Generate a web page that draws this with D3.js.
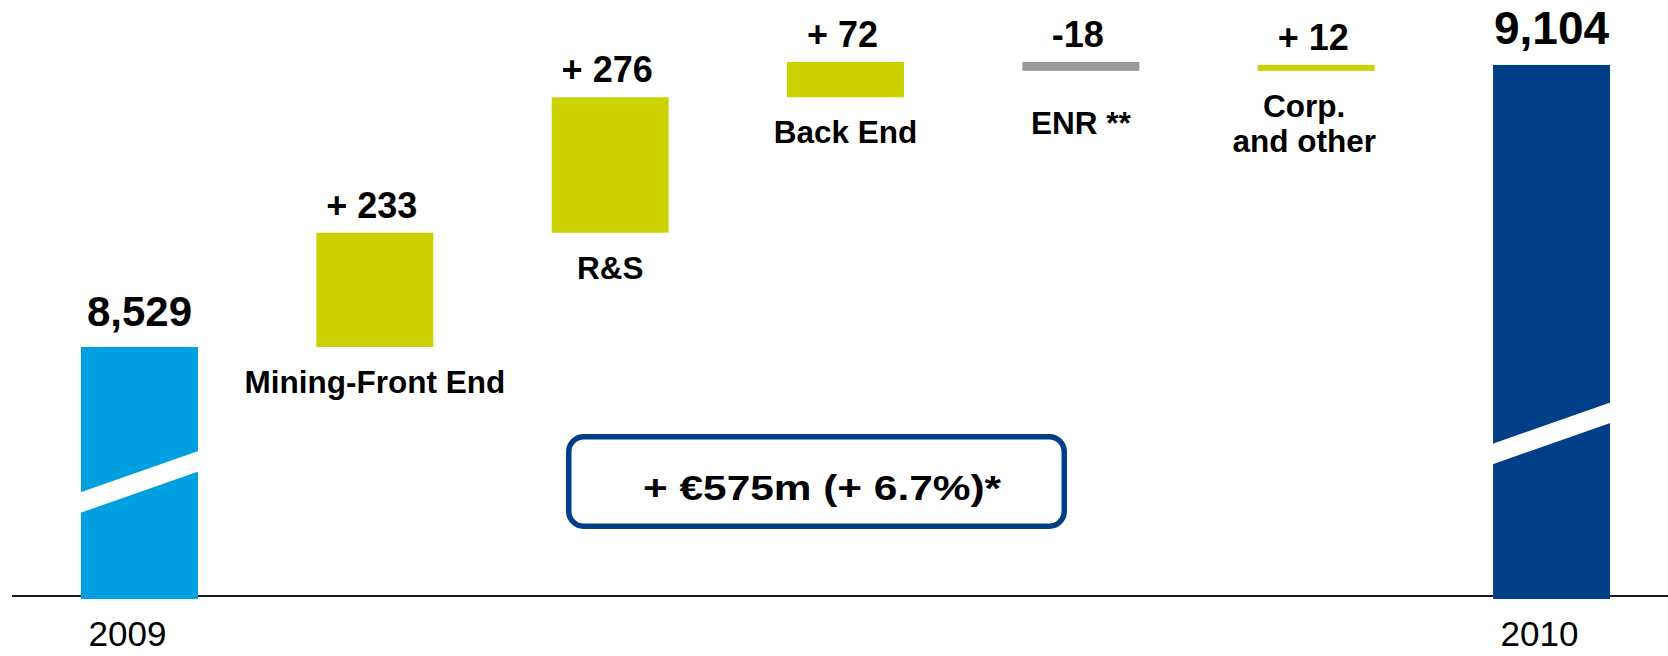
<!DOCTYPE html>
<html><head><meta charset="utf-8">
<script src="https://cdn.jsdelivr.net/npm/d3@7"></script>
<style>html,body{margin:0;padding:0;background:#fff;} svg{display:block;}</style>
</head><body>
<svg id="chart" width="1668" height="656"></svg>
<script>
// ---- data ----
const categories = ["2009", "Mining-Front End", "R&S", "Back End", "ENR **", "Corp.|and other", "2010"];
const kinds = ["total", "delta", "delta", "delta", "delta", "delta", "total"];
const values = [8529, 233, 276, 72, -18, 12, 9104];
const summaryText = "+ €575m (+ 6.7%)*";

// ---- setup ----
const svg = d3.select("#chart");
const font = "'Liberation Sans', Arial, Helvetica, sans-serif";
const colTotalStart = "#009FE0", colTotalEnd = "#003F87";
const colUp = "#CCD200", colDown = "#999999";

let level = 0;
const items = categories.map((c, i) => {
  let start, end;
  if (kinds[i] === "total") { start = null; end = values[i]; level = values[i]; }
  else { start = level; end = level + values[i]; level = end; }
  return { cat: c, kind: kinds[i], value: values[i], start, end, i };
});
const levels = items.flatMap(d => d.start == null ? [d.end] : [d.start, d.end]);

const x = d3.scaleBand().domain(categories).range([81, 1610]).paddingInner(0.503).paddingOuter(0);
const y = d3.scaleLinear().domain(d3.extent(levels)).range([347, 62]);
const baseY = 599, axisY = 596;

// axis line
svg.append("line").attr("x1", 12).attr("x2", 1668).attr("y1", axisY).attr("y2", axisY)
  .attr("stroke", "#1a1a1a").attr("stroke-width", 2);

const g = svg.append("g");
const bw = x.bandwidth();

items.forEach((d, k) => {
  const x0 = x(d.cat);
  const cx = x0 + bw / 2;
  if (d.kind === "total") {
    const top = y(d.end);
    const isFirst = k === 0;
    g.append("rect").attr("x", x0).attr("y", top).attr("width", bw).attr("height", baseY - top)
      .attr("fill", isFirst ? colTotalStart : colTotalEnd);
    // axis-break wedge
    const off = isFirst ? 86 : 134.5;
    const gap = 20.5, rise = 41.7;
    const lb = baseY - off;
    const lt = lb - gap;
    g.append("polygon")
      .attr("points", [[x0 - 1, lt], [x0 + bw + 1, lt - rise], [x0 + bw + 1, lb - rise], [x0 - 1, lb]].map(p => p.join(",")).join(" "))
      .attr("fill", "#fff");
    // value label
    g.append("text").attr("x", cx).attr("y", top - 21).attr("text-anchor", "middle")
      .attr("font-family", font).attr("font-weight", "bold").attr("font-size", isFirst ? 42 : 46)
      .attr("fill", "#000").text(d3.format(",")(d.value));
    // year label
    g.append("text").attr("x", cx - 12).attr("y", 646).attr("text-anchor", "middle")
      .attr("font-family", font).attr("font-size", 35).attr("fill", "#000").text(d.cat);
  } else {
    const top = y(Math.max(d.start, d.end));
    const bot = y(Math.min(d.start, d.end));
    g.append("rect").attr("x", x0).attr("y", top).attr("width", bw).attr("height", bot - top)
      .attr("fill", d.value >= 0 ? colUp : colDown);
    const lbl = d.value >= 0 ? "+ " + d.value : "-" + Math.abs(d.value);
    g.append("text").attr("x", cx - 3).attr("y", top - 15).attr("text-anchor", "middle")
      .attr("font-family", font).attr("font-weight", "bold").attr("font-size", 36)
      .attr("fill", "#000").text(lbl);
    const lines = d.cat.split("|");
    const lh = 34.7;
    const thin = (bot - top) < 10;
    const shift = thin ? (2 - lines.length) * lh / 2 : 0;
    const t = g.append("text").attr("text-anchor", "middle")
      .attr("font-family", font).attr("font-weight", "bold").attr("font-size", 31.5).attr("fill", "#000");
    lines.forEach((ln, j) => {
      t.append("tspan").attr("x", cx - (lines.length > 1 ? 12 : 0)).attr("y", bot + 46 + shift + j * lh).text(ln);
    });
  }
});

// summary box
svg.append("rect").attr("x", 568.75).attr("y", 436.75).attr("width", 495.5).attr("height", 89.5)
  .attr("rx", 15).attr("ry", 15).attr("fill", "none").attr("stroke", colTotalEnd).attr("stroke-width", 5.5);
svg.append("text").attr("x", 822).attr("y", 500).attr("text-anchor", "middle")
  .attr("font-family", font).attr("font-weight", "bold").attr("font-size", 35)
  .attr("textLength", 358).attr("lengthAdjust", "spacingAndGlyphs")
  .attr("fill", "#000").text(summaryText);
</script>
</body></html>
